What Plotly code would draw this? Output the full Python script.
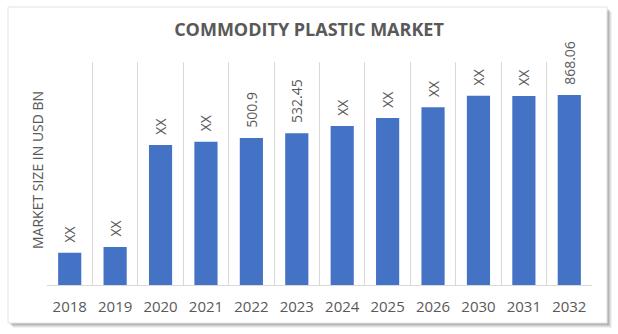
import math
import plotly.graph_objects as go

# Market size by year (USD bn); XX years are unpublished estimates
years = ["2018", "2019", "2020", "2021", "2022", "2023", "2024", "2025", "2026", "2030", "2031", "2032"]
market_size = [115, 124, 458, 478, 500.9, 532.45, 584, 647, 742, 862, 858, 868.06]
bar_labels = ["XX", "XX", "XX", "XX", "500.9", "532.45", "XX", "XX", "XX", "XX", "XX", "868.06"]

W, H = 618, 334
L, R, T, B = 47, 26, 62, 49
pw, ph = W - L - R, H - T - B

def px_x(px):
    return (px - L) / pw

def px_y(py):
    return (H - B - py) / ph

GRAY = "#595959"
FONT = "Open Sans"

fig = go.Figure(
    go.Bar(
        x=years,
        y=market_size,
        text=["\u00a0\u00a0" + t for t in bar_labels],
        textposition="outside",
        textangle=-90,
        constraintext="none",
        textfont=dict(family=FONT, size=14, color=GRAY),
        marker=dict(color="#4472C4", line=dict(width=0)),
        cliponaxis=False,
        hoverinfo="x+y",
    )
)

shapes = []
# soft drop shadow behind the card
for off, op in [(5, 0.05), (4, 0.07), (3, 0.09), (2, 0.11)]:
    shapes.append(dict(
        type="rect", xref="paper", yref="paper", layer="below",
        x0=px_x(8 + off), x1=px_x(607 + off), y0=px_y(323 + off), y1=px_y(7 + off),
        fillcolor=f"rgba(0,0,0,{op})", line=dict(width=0),
    ))
# card
shapes.append(dict(
    type="rect", xref="paper", yref="paper", layer="below",
    x0=px_x(8), x1=px_x(607), y0=px_y(323), y1=px_y(7),
    fillcolor="white", line=dict(color="#e3e3e3", width=1),
))

fig.update_layout(
    width=W, height=H,
    margin=dict(l=L, r=R, t=T, b=B),
    paper_bgcolor="white",
    plot_bgcolor="rgba(0,0,0,0)",
    showlegend=False,
    bargap=0.49,
    shapes=shapes,
    title=dict(
        text="<b>COMMODITY PLASTIC MARKET</b>",
        x=0.5, xanchor="center", y=1 - 30 / H, yanchor="middle",
        font=dict(family=FONT, size=18, color=GRAY),
    ),
    annotations=[dict(
        text="MARKET SIZE IN USD BN", textangle=-90,
        xref="paper", yref="paper", x=px_x(37), y=px_y(170),
        xanchor="center", yanchor="middle", showarrow=False,
        font=dict(family=FONT, size=14, color=GRAY),
    )],
    xaxis=dict(
        type="category",
        tickson="boundaries",
        showgrid=True, gridcolor="#d9d9d9", gridwidth=1,
        showline=True, linecolor="#d9d9d9", linewidth=1,
        ticks="", ticklabelstandoff=8,
        tickfont=dict(family=FONT, size=15, color=GRAY),
        range=[-0.5, len(years) - 0.5],
        fixedrange=True,
    ),
    yaxis=dict(
        type="log",
        range=[1.8813, 3.1229],
        showgrid=False, zeroline=False, showline=False,
        showticklabels=False, ticks="",
        fixedrange=True,
    ),
)

fig.write_html("out.html")
